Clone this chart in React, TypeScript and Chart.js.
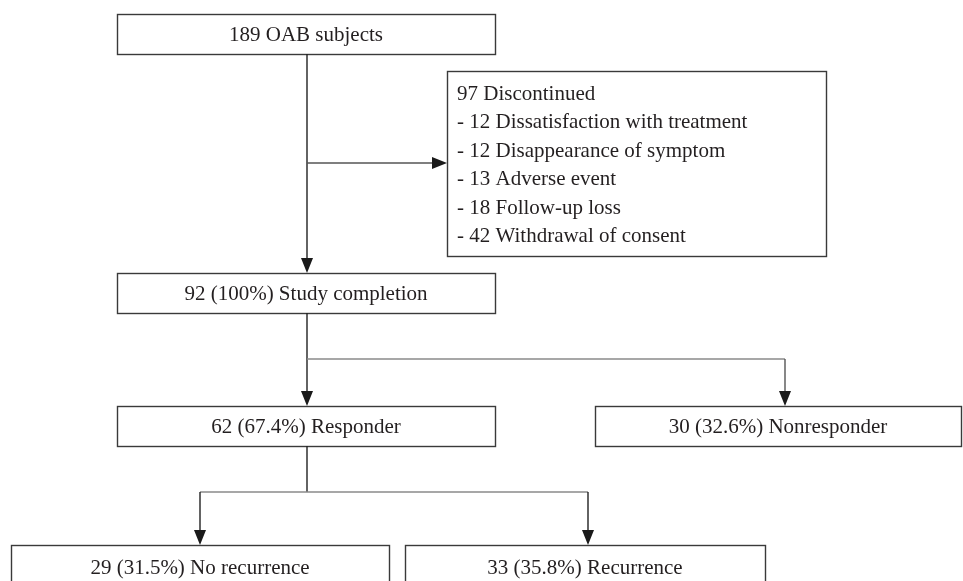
import { useEffect, useRef } from "react";
import { Chart, registerables } from "chart.js";
Chart.register(...registerables);

// ---- data ----
const enrolledCount = 189;
const enrolledLabel = "OAB subjects";
const discontinuedCount = 97;
const discontinuedLabel = "Discontinued";
const discontinuedReasons = [
  "Dissatisfaction with treatment",
  "Disappearance of symptom",
  "Adverse event",
  "Follow-up loss",
  "Withdrawal of consent",
];
const discontinuedCounts = [12, 12, 13, 18, 42];
const outcomeLabels = ["Study completion", "Responder", "Nonresponder", "No recurrence", "Recurrence"];
const outcomeCounts = [92, 62, 30, 29, 33];
const outcomePercents = [100, 67.4, 32.6, 31.5, 35.8];

// ---- layout (in scale units) ----
const W = 963;
const H = 581;
type Box = { x0: number; x1: number; y0: number; y1: number; ty: number };
const LAYOUT: Record<string, Box> = {
  enrolled: { x0: 117, x1: 495, y0: 14, y1: 54, ty: 35 },
  discontinued: { x0: 447, x1: 826, y0: 71, y1: 256, ty: 94.5 },
  completion: { x0: 117, x1: 495, y0: 273, y1: 313, ty: 294 },
  responder: { x0: 117, x1: 495, y0: 406, y1: 446, ty: 427 },
  nonresponder: { x0: 595, x1: 961, y0: 406, y1: 446, ty: 427 },
  norecur: { x0: 11, x1: 389, y0: 545, y1: 620, ty: 568 },
  recur: { x0: 405, x1: 765, y0: 545, y1: 620, ty: 568 },
};
const LINE_GAP = 28.4;
const FONT = '21px "Liberation Serif", "DejaVu Serif", serif';
const TEXT_COLOR = "#231f20";
const BOX_COLOR = "#3a3a3a";
const DARK = "#222222";
const GREY = "#8a8a8a";

type Seg = { pts: [number, number][]; color: string; arrow: boolean };
const CONNECTORS: Seg[] = [
  { pts: [[307, 54], [307, 273]], color: DARK, arrow: true },
  { pts: [[307, 163], [447, 163]], color: "#555", arrow: true },
  { pts: [[307, 313], [307, 406]], color: DARK, arrow: true },
  { pts: [[307, 359], [785, 359]], color: GREY, arrow: false },
  { pts: [[785, 359], [785, 406]], color: "#555", arrow: true },
  { pts: [[307, 446], [307, 492]], color: DARK, arrow: false },
  { pts: [[200, 492], [588, 492]], color: GREY, arrow: false },
  { pts: [[200, 492], [200, 545]], color: DARK, arrow: true },
  { pts: [[588, 492], [588, 545]], color: DARK, arrow: true },
];

const fmt = (i: number) => `${outcomeCounts[i]} (${outcomePercents[i]}%) ${outcomeLabels[i]}`;

const flowPlugin = {
  id: "flow",
  afterDraw(chart: any) {
    const ctx: CanvasRenderingContext2D = chart.ctx;
    const px = (v: number) => chart.scales.x.getPixelForValue(v);
    const py = (v: number) => chart.scales.y.getPixelForValue(v);
    ctx.save();
    // boxes
    ctx.strokeStyle = BOX_COLOR;
    ctx.lineWidth = 1.4;
    Object.values(LAYOUT).forEach((b) => {
      const x = px(b.x0), y = py(b.y0);
      const w = px(b.x1) - x, h = py(b.y1) - y;
      ctx.strokeRect(Math.round(x) + 0.5, Math.round(y) + 0.5, Math.round(w), Math.round(h));
    });
    // connectors
    CONNECTORS.forEach((s) => {
      ctx.strokeStyle = s.color;
      ctx.fillStyle = "#1a1a1a";
      ctx.lineWidth = 1.4;
      const [a, b] = s.pts;
      const ax = px(a[0]), ay = py(a[1]), bx = px(b[0]), by = py(b[1]);
      const dx = bx - ax, dy = by - ay;
      const len = Math.hypot(dx, dy);
      const ux = dx / len, uy = dy / len;
      const headL = 15, headW = 6;
      const endX = s.arrow ? bx - ux * headL : bx;
      const endY = s.arrow ? by - uy * headL : by;
      ctx.beginPath();
      ctx.moveTo(ax, ay);
      ctx.lineTo(endX, endY);
      ctx.stroke();
      if (s.arrow) {
        ctx.beginPath();
        ctx.moveTo(bx, by);
        ctx.lineTo(endX - uy * headW, endY + ux * headW);
        ctx.lineTo(endX + uy * headW, endY - ux * headW);
        ctx.closePath();
        ctx.fill();
      }
    });
    // text
    ctx.fillStyle = TEXT_COLOR;
    ctx.font = FONT;
    ctx.textBaseline = "middle";
    ctx.textAlign = "center";
    const center = (b: Box, t: string) => ctx.fillText(t, px((b.x0 + b.x1) / 2), py(b.ty));
    center(LAYOUT.enrolled, `${enrolledCount} ${enrolledLabel}`);
    center(LAYOUT.completion, fmt(0));
    center(LAYOUT.responder, fmt(1));
    center(LAYOUT.nonresponder, fmt(2));
    center(LAYOUT.norecur, fmt(3));
    center(LAYOUT.recur, fmt(4));
    ctx.textAlign = "left";
    const d = LAYOUT.discontinued;
    ctx.fillText(`${discontinuedCount} ${discontinuedLabel}`, px(d.x0 + 10), py(d.ty));
    discontinuedReasons.forEach((r, i) => {
      ctx.fillText(`- ${discontinuedCounts[i]} ${r}`, px(d.x0 + 10), py(d.ty + LINE_GAP * (i + 1)));
    });
    ctx.restore();
  },
};

export default function App() {
  const ref = useRef<HTMLCanvasElement | null>(null);
  useEffect(() => {
    document.body.style.margin = "0";
    const chart = new Chart(ref.current!, {
      type: "scatter",
      data: { datasets: [{ data: [] }] },
      options: {
        animation: false,
        responsive: false,
        devicePixelRatio: 1,
        layout: { padding: 0 },
        plugins: { legend: { display: false }, tooltip: { enabled: false } },
        scales: {
          x: { type: "linear", min: 0, max: W, display: false },
          y: { type: "linear", min: 0, max: H, reverse: true, display: false },
        },
      },
      plugins: [flowPlugin],
    });
    return () => chart.destroy();
  }, []);
  return (
    <div style={{ width: W, height: H, background: "#fff" }}>
      <canvas ref={ref} width={W} height={H} style={{ display: "block" }} />
    </div>
  );
}
